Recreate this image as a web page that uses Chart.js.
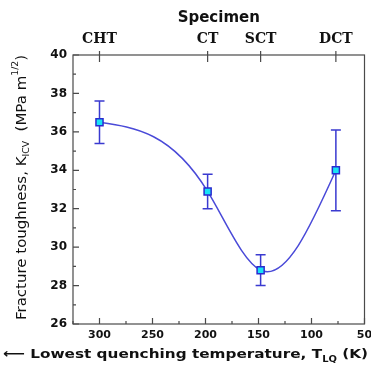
<!DOCTYPE html>
<html>
<head>
<meta charset="utf-8">
<script src="https://cdn.jsdelivr.net/npm/chart.js@4.4.0/dist/chart.umd.min.js"></script>
<style>
  html, body { margin: 0; padding: 0; background: #fff; }
  #wrap { width: 371px; height: 365px; }
</style>
</head>
<body>
<div id="wrap"><canvas id="myChart" width="371" height="365"></canvas></div>
<script>
// data
var specimens = ['CHT', 'CT', 'SCT', 'DCT'];
var temps = [300, 198, 148, 77];          // lowest quenching temperature (K)
var toughness = [36.5, 32.9, 28.8, 34.0]; // K_ICV (MPa m^1/2)
var errLow = [35.4, 32.0, 28.0, 31.9];
var errHigh = [37.6, 33.8, 29.6, 36.1];
var xTicks = [300, 250, 200, 150, 100, 50];
var yTicks = [26, 28, 30, 32, 34, 36, 38, 40];

var frameColor = '#4a4a4a';
var blue = '#3a3ad0';
var sans = '"DejaVu Sans", Verdana, sans-serif';

// slopes of a natural cubic spline (xs ascending)
function naturalSlopes(xs, ys) {
  var n = xs.length, h = [], d = [], M = new Array(n).fill(0);
  for (var i = 0; i < n - 1; i++) { h[i] = xs[i + 1] - xs[i]; d[i] = (ys[i + 1] - ys[i]) / h[i]; }
  // tridiagonal solve for inner second derivatives
  var a = [], b = [], c = [], r = [];
  for (var k = 1; k < n - 1; k++) {
    a.push(h[k - 1]); b.push(2 * (h[k - 1] + h[k])); c.push(h[k]); r.push(6 * (d[k] - d[k - 1]));
  }
  var m = b.length;
  for (var k2 = 1; k2 < m; k2++) {
    var f = a[k2] / b[k2 - 1];
    b[k2] -= f * c[k2 - 1]; r[k2] -= f * r[k2 - 1];
  }
  for (var k3 = m - 1; k3 >= 0; k3--) {
    M[k3 + 1] = (r[k3] - (k3 < m - 1 ? c[k3] * M[k3 + 2] : 0)) / b[k3];
  }
  var s = [];
  for (var j = 0; j < n - 1; j++) s[j] = d[j] - h[j] * (2 * M[j] + M[j + 1]) / 6;
  s[n - 1] = d[n - 2] + h[n - 2] * (M[n - 2] + 2 * M[n - 1]) / 6;
  return s;
}

// replace chart.js bezier control points with those of a natural spline
var splineCurve = {
  id: 'splineCurve',
  beforeDatasetsDraw: function(chart) {
    var meta = chart.getDatasetMeta(0);
    var x = chart.scales.x, y = chart.scales.y;
    meta.dataset.updateControlPoints(chart.chartArea, 'x');
    var slopes = naturalSlopes(temps.slice().reverse(), toughness.slice().reverse()).reverse();
    meta.data.forEach(function(pt, k) {
      function cp(j) {
        var dx = (temps[j] - temps[k]) / 3;
        return { x: x.getPixelForValue(temps[k] + dx), y: y.getPixelForValue(toughness[k] + slopes[k] * dx) };
      }
      var p1 = k > 0 ? cp(k - 1) : { x: pt.x, y: pt.y };
      var p2 = k < temps.length - 1 ? cp(k + 1) : { x: pt.x, y: pt.y };
      pt.cp1x = p1.x; pt.cp1y = p1.y;
      pt.cp2x = p2.x; pt.cp2y = p2.y;
    });
  }
};

// draws a string made of parts with sub/superscripts, optionally stretched
function richText(ctx, parts, x, y, size, weight, family, sx) {
  ctx.save();
  ctx.translate(x, y);
  ctx.scale(sx || 1, 1);
  var cx = 0;
  parts.forEach(function(p) {
    ctx.font = weight + ' ' + (size * (p.scale || 1)) + 'px ' + family;
    ctx.fillText(p.t, cx, p.dy || 0);
    cx += ctx.measureText(p.t).width;
  });
  ctx.restore();
}
function richWidth(ctx, parts, size, weight, family) {
  var w = 0;
  parts.forEach(function(p) {
    ctx.font = weight + ' ' + (size * (p.scale || 1)) + 'px ' + family;
    w += ctx.measureText(p.t).width;
  });
  return w;
}

var errorBars = {
  id: 'errorBars',
  beforeDatasetsDraw: function(chart) {
    var ctx = chart.ctx, x = chart.scales.x, y = chart.scales.y;
    ctx.save();
    ctx.strokeStyle = blue;
    ctx.lineWidth = 1.5;
    temps.forEach(function(t, i) {
      var px = x.getPixelForValue(t);
      var y1 = y.getPixelForValue(errLow[i]), y2 = y.getPixelForValue(errHigh[i]);
      ctx.beginPath();
      ctx.moveTo(px, y1); ctx.lineTo(px, y2);
      ctx.moveTo(px - 5, y1); ctx.lineTo(px + 5, y1);
      ctx.moveTo(px - 5, y2); ctx.lineTo(px + 5, y2);
      ctx.stroke();
    });
    ctx.restore();
  }
};

var frameAndTitles = {
  id: 'frameAndTitles',
  afterDraw: function(chart) {
    var ctx = chart.ctx, a = chart.chartArea;
    var x = chart.scales.x, y = chart.scales.y;
    ctx.save();
    ctx.strokeStyle = frameColor;
    ctx.lineWidth = 1.2;
    ctx.strokeRect(a.left, a.top, a.right - a.left, a.bottom - a.top);
    ctx.beginPath();
    // left ticks, inward
    for (var v = 26; v <= 40; v++) {
      var py = y.getPixelForValue(v);
      ctx.moveTo(a.left, py);
      ctx.lineTo(a.left + (v % 2 === 0 ? 6 : 3), py);
    }
    // bottom ticks, inward
    for (var t = 50; t <= 325; t += 25) {
      var px = x.getPixelForValue(t);
      ctx.moveTo(px, a.bottom);
      ctx.lineTo(px, a.bottom - (t % 50 === 0 ? 6 : 3));
    }
    // top ticks at specimens
    temps.forEach(function(tt) {
      var px = x.getPixelForValue(tt);
      ctx.moveTo(px, a.top - 4);
      ctx.lineTo(px, a.top + 7);
    });
    ctx.stroke();

    ctx.fillStyle = '#111';
    ctx.textBaseline = 'alphabetic';
    // y title, rotated
    var yParts = [
      { t: 'Fracture toughness, K' },
      { t: 'ICV', scale: 0.62, dy: 3 },
      { t: '  (MPa m' },
      { t: '1/2', scale: 0.62, dy: -8 },
      { t: ')' }
    ];
    var w = richWidth(ctx, yParts, 14, 'normal', sans);
    ctx.save();
    ctx.translate(26, 320);
    ctx.rotate(-Math.PI / 2);
    richText(ctx, yParts, 0, 0, 14, 'normal', sans, 265 / w);
    ctx.restore();

    // x title
    var xParts = [
      { t: '\u27F5 Lowest quenching temperature, T' },
      { t: 'LQ', scale: 0.65, dy: 4 },
      { t: ' (K)' }
    ];
    var wx = richWidth(ctx, xParts, 13, 'bold', sans);
    richText(ctx, xParts, 3, 358, 13, 'bold', sans, 365 / wx);
    ctx.restore();
  }
};

var ctx = document.getElementById('myChart').getContext('2d');

var chart = new Chart(ctx, {
  type: 'line',
  data: {
    datasets: [{
      label: 'K_ICV',
      data: temps.map(function(t, i) { return { x: t, y: toughness[i] }; }),
      borderColor: '#4a4ad8',
      borderWidth: 1.5,
      tension: 0.4,
      pointStyle: 'rect',
      pointRadius: 5,
      pointBorderWidth: 1.5,
      pointBackgroundColor: '#19e3f5',
      pointBorderColor: '#2a2ad0',
      fill: false
    }]
  },
  options: {
    responsive: false,
    animation: false,
    layout: { padding: { left: 0, right: 5, top: 0, bottom: 0 } },
    plugins: {
      legend: { display: false },
      tooltip: { enabled: false }
    },
    scales: {
      x: {
        type: 'linear',
        position: 'bottom',
        reverse: true,
        min: 50,
        max: 325,
        afterBuildTicks: function(s) { s.ticks = xTicks.map(function(v) { return { value: v }; }); },
        afterFit: function(s) { s.height = 41; s.paddingLeft = 0; s.paddingRight = 0; },
        grid: { display: false, drawTicks: false },
        border: { display: false },
        ticks: {
          padding: 5,
          maxRotation: 0,
          autoSkip: false,
          color: '#111',
          font: { family: sans, size: 11, weight: 'bold' }
        }
      },
      x2: {
        type: 'linear',
        position: 'top',
        reverse: true,
        min: 50,
        max: 325,
        afterBuildTicks: function(s) { s.ticks = temps.map(function(v) { return { value: v }; }); },
        afterFit: function(s) { s.height = 55; s.paddingLeft = 0; s.paddingRight = 0; },
        grid: { display: false, drawTicks: false },
        border: { display: false },
        ticks: {
          padding: 7,
          maxRotation: 0,
          autoSkip: false,
          color: '#111',
          callback: function(v) { return specimens[temps.indexOf(v)]; },
          font: { family: '"DejaVu Serif", serif', size: 14, weight: 'bold' }
        },
        title: {
          display: true,
          text: 'Specimen',
          color: '#111',
          padding: { top: 9, bottom: 0 },
          font: { family: sans, size: 15, weight: 'bold' }
        }
      },
      y: {
        min: 26,
        max: 40,
        afterBuildTicks: function(s) { s.ticks = yTicks.map(function(v) { return { value: v }; }); },
        afterFit: function(s) { s.width = 73; },
        grid: { display: false, drawTicks: false },
        border: { display: false },
        ticks: {
          padding: 6,
          color: '#111',
          font: { family: sans, size: 12, weight: 'bold' }
        }
      }
    }
  },
  plugins: [splineCurve, errorBars, frameAndTitles]
});
</script>
</body>
</html>
